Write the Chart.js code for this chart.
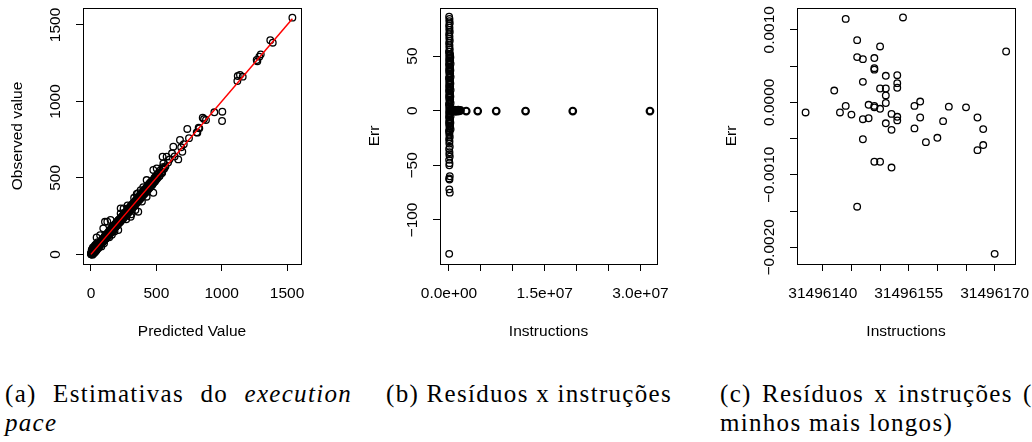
<!DOCTYPE html>
<html>
<head>
<meta charset="utf-8">
<title>Execution pace e resíduos</title>
<script src="https://cdn.jsdelivr.net/npm/chart.js@4.4.1/dist/chart.umd.min.js"></script>
<style>
  body { margin: 0; background: #fff; width: 1032px; height: 442px; overflow: hidden; position: relative; }
  canvas { position: absolute; top: 0; }
  .cap { position: absolute; font-family: "Liberation Serif", "Times New Roman", serif; font-size: 25px; line-height: 29px; letter-spacing: 1.3px; color: #000; }
  .just { text-align: justify; text-align-last: justify; }
</style>
</head>
<body>
<canvas id="pace" width="347" height="344" style="left:0"></canvas>
<canvas id="resid" width="347" height="344" style="left:360px"></canvas>
<canvas id="longest" width="347" height="344" style="left:720px"></canvas>

<div class="cap" style="left:5px;top:379px;width:347px">
  <div class="just">(a) Estimativas do <i>execution</i></div>
  <div><i>pace</i></div>
</div>
<div class="cap" style="left:386px;top:379px">(b) Resíduos x instruções</div>
<div class="cap" style="left:720px;top:379px;width:347px">
  <div class="just">(c) Resíduos x instruções (ca-</div>
  <div>minhos mais longos)</div>
</div>

<script>
// (a) predicted vs observed execution pace
const predicted = [
  0, 1, 2, 3, 4, 5, 6, 7, 8, 9,
  10, 11, 12, 13, 14, 15, 16, 17, 18, 19,
  20, 21, 22, 23, 24, 25, 26, 27, 28, 29,
  30, 31, 32, 33, 34, 35, 36, 37, 38, 39,
  40, 41, 42, 43, 44, 45, 46, 47, 48, 50,
  5, 10, 15, 12, 20, 25, 30, 8, 18, 28,
  35, 40, 45, 33, 43, 52, 55, 60,
  52, 55, 58, 60, 63, 65, 68, 70, 73, 75,
  78, 80, 83, 85, 88, 90, 93, 95, 98, 100,
  103, 105, 108, 110, 113, 115, 118, 120, 123, 125,
  128, 130, 133, 135, 138, 140, 143, 145, 148, 150,
  153, 155, 158, 160, 163, 165, 168, 170, 173, 175,
  178, 180, 183, 185, 188, 190, 193, 195, 198, 200,
  107, 94, 43, 125, 70, 150, 160, 140, 180, 209, 80, 100,
  205, 210, 215, 220, 225, 230, 235, 240, 245, 250,
  255, 260, 265, 270, 275, 280, 285, 290, 295, 300,
  305, 310, 315, 320, 325, 330, 335, 340, 345, 350,
  355, 360, 365, 370, 375, 380, 385, 390, 395, 400,
  405, 410, 415, 420,
  227, 227, 304, 362, 250, 280, 330, 350, 340, 270, 310, 390, 360, 380, 400, 426, 426,
  425, 430, 435, 440, 445, 450, 455, 460, 465, 470,
  477, 477, 480, 485, 490, 495, 500, 503, 505, 510,
  518, 525, 530, 540, 548, 548, 554, 560, 570, 579,
  590, 600, 620, 630, 640, 668, 681, 690, 699, 710,
  737, 750, 809, 814, 824, 829, 855, 865, 880,
  944, 1003, 1005, 1120, 1123, 1140, 1161, 1268, 1273, 1288, 1299, 1372, 1391, 1541,
  2, 6, 9, 13, 17, 21, 24, 28, 32, 36,
  39, 44, 49, 54, 57, 62, 66, 71, 76, 81,
  86, 91, 96, 101, 106, 111, 116, 121, 126, 131,
  136, 141, 146, 151, 156, 161, 166, 171, 176, 181,
  186, 191, 196, 202, 208, 213, 218, 223, 228, 233,
  238, 243, 248, 253, 258, 263, 268, 273, 278, 283,
  288, 293, 298, 303, 308, 313, 318, 323, 328, 333,
  338, 343, 348, 353, 358, 363, 368, 373, 378, 383,
  388, 393, 398, 403, 408, 413, 418, 423, 428, 433,
  438, 443, 448, 453, 458, 463, 468, 473, 478, 483,
  488, 493, 498, 508, 515, 522, 535, 545, 555
];
const observed = [
  2, 6, 0, 9, 3, 12, 1, 8, 15, 4,
  11, 18, 6, 14, 21, 9, 17, 24, 12, 20,
  27, 15, 23, 30, 17, 26, 34, 20, 29, 37,
  23, 32, 40, 26, 35, 43, 29, 38, 46, 31,
  41, 50, 34, 44, 53, 37, 47, 57, 40, 50,
  25, 35, 45, -2, 5, 10, 15, 30, 42, 55,
  18, 25, 30, 62, 70, 80, 40, 45,
  60, 50, 68, 56, 72, 60, 78, 64, 82, 70,
  88, 72, 92, 78, 96, 82, 102, 86, 108, 92,
  112, 96, 118, 100, 122, 106, 128, 110, 134, 116,
  138, 120, 144, 126, 150, 130, 154, 136, 160, 140,
  166, 146, 170, 150, 176, 156, 180, 160, 186, 166,
  190, 170, 196, 176, 200, 180, 206, 186, 212, 190,
  213, 170, 111, 214, 125, 225, 128, 112, 150, 159, 52, 72,
  218, 200, 228, 210, 236, 218, 246, 228, 256, 238,
  266, 248, 276, 256, 286, 266, 298, 276, 306, 286,
  318, 296, 326, 306, 338, 316, 346, 326, 358, 336,
  366, 346, 376, 356, 390, 366, 396, 376, 406, 386,
  418, 396, 428, 404,
  301, 268, 246, 279, 300, 320, 370, 395, 290, 230, 262, 345, 400, 420, 440, 486, 377,
  440, 416, 450, 426, 462, 436, 470, 446, 480, 456,
  403, 552, 470, 500, 476, 510, 490, 562, 520, 500,
  530, 512, 548, 530, 570, 639, 595, 560, 575, 639,
  600, 620, 661, 704, 640, 621, 748, 700, 671, 720,
  820, 760, 798, 796, 828, 824, 894, 885, 879,
  929, 872, 933, 1134, 1166, 1173, 1162, 1271, 1262, 1293, 1308, 1400, 1384, 1548,
  7, -1, 19, 10, 31, 12, 26, 16, 40, 32,
  44, 37, 59, 51, 71, 53, 68, 59, 84, 77,
  91, 84, 106, 98, 120, 102, 118, 109, 134, 127,
  141, 134, 156, 148, 170, 152, 168, 159, 184, 177,
  191, 184, 206, 199, 222, 204, 220, 211, 236, 229,
  243, 236, 258, 250, 272, 254, 270, 261, 286, 279,
  293, 286, 308, 300, 322, 304, 320, 311, 336, 329,
  343, 336, 358, 350, 372, 354, 370, 361, 386, 379,
  393, 386, 408, 400, 422, 404, 420, 411, 436, 429,
  443, 436, 458, 450, 472, 454, 470, 461, 486, 479,
  493, 486, 508, 505, 529, 513, 537, 533, 563
];
const fitX = [0, 1541];
const fitY = [0, 1541];
const paceTicks = [0, 500, 1000, 1500];
const paceLabels = ['0', '500', '1000', '1500'];

// (b) residuals against instruction count
const colInstr = [
  20000, 80000, 50000, 120000, 20000, 80000, 50000, 120000, 20000, 80000,
  50000, 120000, 20000, 80000, 50000, 120000, 20000, 80000, 50000, 120000,
  20000, 80000, 50000, 120000, 20000, 80000, 50000, 120000, 20000, 80000,
  50000, 120000, 20000, 80000, 50000, 120000, 20000, 80000, 50000, 120000,
  20000, 80000, 50000, 120000, 20000, 80000, 50000, 120000, 20000, 80000,
  50000, 120000, 20000, 80000, 50000, 120000, 20000, 80000, 50000, 120000,
  20000, 80000, 50000, 120000, 20000, 80000, 50000, 120000, 20000, 80000,
  50000, 120000, 30000,
  160000, 220000, 180000, 250000, 160000, 220000, 180000, 250000, 160000, 220000,
  180000, 250000, 160000, 220000, 180000, 250000, 160000, 220000, 180000, 250000,
  160000, 220000, 180000, 250000,
  30000, 100000, 60000, 140000, 30000, 100000, 60000, 140000, 30000, 100000,
  60000, 140000, 30000, 100000, 60000, 140000, 30000, 100000, 60000, 140000,
  30000, 100000, 60000, 140000, 30000
];
const colErr = [
  86, 84, 82, 80, 78, 76, 74, 72, 70, 68,
  66, 64, 62, 60, 58, 56, 54, 52, 50, 48,
  46, 44, 42, 40, 38, 36, 34, 32, 30, 28,
  26, 24, 22, 20, 18, 16, 14, 12, 10, 8,
  6, 4, 2, 0, -2, -4, -6, -8, -10, -12,
  -14, -16, -18, -20, -22, -24, -26, -28, -30, -33,
  -35, -38, -40, -42, -45, -48, -50, -60, -62, -63,
  -72, -75, -131,
  52, 49, 46, 43, 40, 37, 34, 31, 28, 25,
  22, 19, 16, 13, 10, 7, 4, 1, -2, -5,
  -8, -11, -14, -17,
  54, 51, 48, 45, 42, 39, 36, 33, 30, 27,
  24, 21, 18, 15, 12, 9, 6, 3, 0, -3,
  -6, -9, -12, -15, -19
];
const tailInstr = [
  250000, 400000, 550000, 700000, 850000, 1000000, 1150000, 1300000, 1450000, 1600000, 1800000,
  2700000, 4500000, 7400000, 12000000, 19400000, 31500000
];
const tailErr = [
  0.6, -0.4, 0.3, -0.2, 0.5, -0.5, 0.2, -0.3, 0.4, -0.1, 0.3,
  -0.3, -0.3, -0.3, -0.3, -0.3, -0.3
];
const instrTicks = [0, 5e6, 1e7, 1.5e7, 2e7, 2.5e7, 3e7];
const instrLabels = ['0.0e+00', '', '', '1.5e+07', '', '', '3.0e+07'];
const errTicks = [-100, -50, 0, 50];
const errLabels = ['\u2212100', '\u221250', '0', '50'];

// (c) residuals for the longest paths
const longInstr = [
  31496137, 31496142, 31496143, 31496144, 31496144, 31496145, 31496146, 31496146, 31496146, 31496147,
  31496147, 31496147, 31496147, 31496148, 31496148, 31496149, 31496149, 31496149, 31496149, 31496149,
  31496149, 31496150, 31496150, 31496150, 31496150, 31496151, 31496151, 31496151, 31496151, 31496151,
  31496152, 31496152, 31496152, 31496153, 31496153, 31496153, 31496153, 31496153, 31496154, 31496156,
  31496156, 31496157, 31496157, 31496158, 31496160, 31496161, 31496162, 31496165, 31496167, 31496167,
  31496168, 31496168, 31496170, 31496172
];
const longErr = [
  -0.00014, 0.000162, -0.00014, -0.00005, 0.00115, -0.00017, 0.000857, 0.000623, -0.00144, 0.000595,
  0.000282, -0.000233, -0.00051, -0.000035, -0.00022, 0.00061, 0.00047, 0.00045, -0.00005, -0.00007,
  -0.00082, 0.00077, 0.00019, -0.00009, -0.00082, 0.000365, 0.00019, 0.000094, -0.00001, -0.00029,
  -0.00016, -0.00038, -0.0009, 0.000374, 0.000264, 0.0002, -0.0002, -0.00025, 0.00117, -0.00005,
  -0.00036, 0.00001, -0.00021, -0.00055, -0.00049, -0.00026, -0.00006, -0.00007, -0.00021, -0.00066,
  -0.00037, -0.00059, -0.00209, 0.0007
];
const longTicks = [31496140, 31496145, 31496150, 31496155, 31496160, 31496165, 31496170];
const longLabels = ['31496140', '', '', '31496155', '', '', '31496170'];
const smallErrTicks = [-0.002, -0.0015, -0.001, -0.0005, 0, 0.0005, 0.001];
const smallErrLabels = ['\u22120.0020', '', '\u22120.0010', '', '0.0000', '', '0.0010'];

Chart.defaults.font.family = '"Liberation Sans", Arial, sans-serif';
Chart.defaults.font.size = 15.5;
Chart.defaults.color = '#000';
Chart.defaults.animation = false;

const pairs = (xs, ys) => xs.map((x, i) => ({ x: x, y: ys[i] }));

// box around the plot region plus y tick labels written along the axis
function rFrame(yLabels) {
  return {
    id: 'rFrame',
    afterDraw(chart) {
      const { ctx, chartArea: a, scales: { y } } = chart;
      ctx.save();
      ctx.strokeStyle = '#000';
      ctx.lineWidth = 1;
      ctx.strokeRect(Math.round(a.left) + 0.5, Math.round(a.top) + 0.5,
        Math.round(a.right - a.left), Math.round(a.bottom - a.top));
      ctx.fillStyle = '#000';
      ctx.font = '15.5px "Liberation Sans", Arial, sans-serif';
      ctx.textAlign = 'center';
      ctx.textBaseline = 'middle';
      y.ticks.forEach((t, i) => {
        if (!yLabels[i]) return;
        ctx.save();
        ctx.translate(a.left - 27.5, y.getPixelForValue(t.value));
        ctx.rotate(-Math.PI / 2);
        ctx.fillText(yLabels[i], 0, 0);
        ctx.restore();
      });
      ctx.restore();
    }
  };
}

function axes(o) {
  return {
    x: {
      type: 'linear', min: o.xMin, max: o.xMax,
      afterBuildTicks: s => { s.ticks = o.xTicks.map(v => ({ value: v })); },
      afterFit: s => { s.height = 77; },
      grid: { drawOnChartArea: false, tickLength: 7, color: '#000' },
      border: { display: false },
      ticks: { padding: 13, autoSkip: false, maxRotation: 0, callback: (v, i) => o.xLabels[i] },
      title: { display: true, text: o.xTitle, padding: 0 }
    },
    y: {
      type: 'linear', min: o.yMin, max: o.yMax,
      afterBuildTicks: s => { s.ticks = o.yTicks.map(v => ({ value: v })); },
      afterFit: s => { s.width = 75; },
      grid: { drawOnChartArea: false, tickLength: 7, color: '#000' },
      border: { display: false },
      ticks: { display: false },
      title: { display: true, text: o.yTitle, padding: 0 }
    }
  };
}

const circles = {
  pointRadius: 3.3,
  pointHoverRadius: 3.3,
  pointBorderWidth: 1.3,
  pointBorderColor: '#000',
  pointBackgroundColor: 'rgba(0,0,0,0)'
};

new Chart(document.getElementById('pace'), {
  type: 'scatter',
  data: {
    datasets: [
      { data: pairs(fitX, fitY), showLine: true, borderColor: '#ff0000', borderWidth: 1.5, pointRadius: 0 },
      Object.assign({ data: pairs(predicted, observed) }, circles)
    ]
  },
  options: {
    responsive: false,
    layout: { padding: { left: 8, top: 8, right: 46, bottom: 3 } },
    plugins: { legend: { display: false }, tooltip: { enabled: false } },
    scales: axes({
      xMin: -61, xMax: 1607, xTicks: paceTicks, xLabels: paceLabels, xTitle: 'Predicted Value',
      yMin: -63, yMax: 1611, yTicks: paceTicks, yTitle: 'Observed value'
    })
  },
  plugins: [rFrame(paceLabels)]
});

new Chart(document.getElementById('resid'), {
  type: 'scatter',
  data: {
    datasets: [
      Object.assign({ data: pairs(tailInstr, tailErr) }, circles, { pointBorderWidth: 2.2 }),
      Object.assign({ data: pairs(colInstr, colErr) }, circles)
    ]
  },
  options: {
    responsive: false,
    layout: { padding: { left: 5, top: 8, right: 50, bottom: 3 } },
    plugins: { legend: { display: false }, tooltip: { enabled: false } },
    scales: axes({
      xMin: -1.41e6, xMax: 32.6e6, xTicks: instrTicks, xLabels: instrLabels, xTitle: 'Instructions',
      yMin: -140.3, yMax: 94, yTicks: errTicks, yTitle: 'Err'
    })
  },
  plugins: [rFrame(errLabels)]
});

new Chart(document.getElementById('longest'), {
  type: 'scatter',
  data: {
    datasets: [
      Object.assign({ data: pairs(longInstr, longErr) }, circles)
    ]
  },
  options: {
    responsive: false,
    layout: { padding: { left: 2, top: 8, right: 52, bottom: 3 } },
    plugins: { legend: { display: false }, tooltip: { enabled: false } },
    scales: axes({
      xMin: 31496135.5, xMax: 31496173.55, xTicks: longTicks, xLabels: longLabels, xTitle: 'Instructions',
      yMin: -0.00223, yMax: 0.0013, yTicks: smallErrTicks, yTitle: 'Err'
    })
  },
  plugins: [rFrame(smallErrLabels)]
});
</script>
</body>
</html>
